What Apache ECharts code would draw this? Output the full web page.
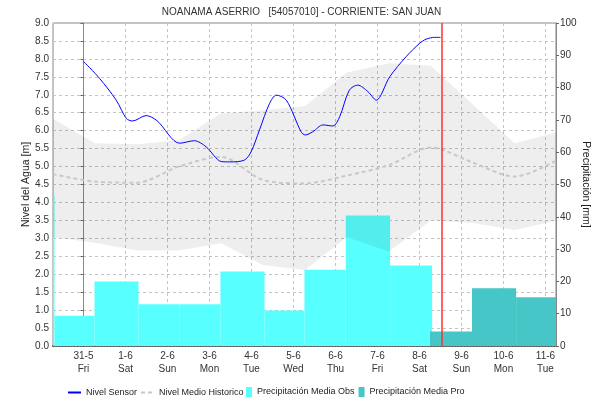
<!DOCTYPE html>
<html>
<head>
<meta charset="utf-8">
<title>NOANAMA ASERRIO</title>
<script src="https://cdn.jsdelivr.net/npm/echarts@6/dist/echarts.min.js"></script>
<style>
  html, body { margin: 0; padding: 0; background: #fff; }
  #main { width: 603px; height: 400px; }
</style>
</head>
<body>
<div id="main"></div>
<script>
// eje x: dias desde 31-5 00:00
const dayDates = ['31-5', '1-6', '2-6', '3-6', '4-6', '5-6', '6-6', '7-6', '8-6', '9-6', '10-6', '11-6'];
const dayNames = ['Fri', 'Sat', 'Sun', 'Mon', 'Tue', 'Wed', 'Thu', 'Fri', 'Sat', 'Sun', 'Mon', 'Tue'];
const xMin = -0.726;
const xMax = 11.25;

// Nivel Sensor [m]
const sensorDay = [0, 0.38, 0.78, 1.02, 1.17, 1.49, 1.75, 2.29, 2.64, 2.92, 3.28, 3.48, 3.83, 3.99, 4.19, 4.43, 4.59, 4.83, 5.18, 5.28, 5.46, 5.70, 5.94, 6.10, 6.33, 6.53, 6.77, 6.97, 7.29, 7.68, 8.0, 8.16, 8.36, 8.50];
const sensorLevel = [7.93, 7.46, 6.85, 6.34, 6.27, 6.42, 6.28, 5.65, 5.72, 5.55, 5.14, 5.13, 5.18, 5.41, 6.02, 6.76, 6.99, 6.85, 5.97, 5.88, 5.97, 6.16, 6.13, 6.39, 7.13, 7.27, 7.09, 6.85, 7.50, 8.06, 8.43, 8.55, 8.60, 8.60];

// historico diario [m]
const histDay = [-0.73, 0.27, 1.27, 2.27, 3.27, 4.27, 5.27, 6.27, 7.27, 8.27, 9.27, 10.27, 11.27];
const histMax = [6.33, 5.65, 5.62, 5.73, 6.48, 6.57, 6.69, 7.62, 7.88, 7.81, 6.73, 5.65, 5.95];
const histMin = [3.03, 2.88, 2.66, 2.66, 2.86, 2.26, 2.12, 3.03, 2.63, 3.50, 3.43, 3.23, 3.49];
const histMean = [4.79, 4.58, 4.55, 5.00, 5.27, 4.63, 4.53, 4.75, 5.04, 5.53, 5.11, 4.72, 5.18];

// precipitacion [mm]
const obsStart = [-0.726, -0.69, 0.262, 1.31, 2.28, 3.26, 4.31, 5.26, 6.245, 7.30];
const obsEnd = [-0.69, 0.262, 1.31, 2.28, 3.26, 4.31, 5.26, 6.245, 7.30, 8.30];
const obsRain = [46.6, 9.4, 20.0, 12.9, 12.9, 23.1, 11.0, 23.6, 40.4, 24.9];
const proStart = [8.25, 9.25, 10.30];
const proEnd = [9.25, 10.30, 11.25];
const proRain = [4.5, 17.9, 15.1];

const nowDay = 8.52;

const font = "'Liberation Sans', Arial, sans-serif";
const dayIdx = dayDates.map((d, i) => i);

function barItem(color) {
  return function (params, api) {
    const p0 = api.coord([api.value(0), api.value(2)]);
    const p1 = api.coord([api.value(1), 0]);
    const shape = echarts.graphic.clipRectByRect({
      x: p0[0], y: p0[1], width: p1[0] - p0[0], height: p1[1] - p0[1]
    }, params.coordSys);
    return shape && { type: 'rect', shape: shape, style: { fill: color, stroke: null, lineWidth: 0 } };
  };
}

function bandItem(params, api) {
  if (params.dataIndex !== 0) return;
  const pts = [];
  histDay.forEach((d, i) => pts.push(api.coord([d, histMax[i]])));
  for (let i = histDay.length - 1; i >= 0; i--) pts.push(api.coord([histDay[i], histMin[i]]));
  return {
    type: 'polygon',
    shape: { points: echarts.graphic.clipPointsByRect(pts, params.coordSys) },
    style: { fill: 'rgba(0,0,0,0.065)', stroke: null }
  };
}

const legendText = { fontFamily: font, fontSize: 9, color: '#222' };

const chart = echarts.init(document.getElementById('main'));
chart.setOption({
  animation: false,
  title: {
    text: 'NOANAMA ASERRIO   [54057010] - CORRIENTE: SAN JUAN',
    left: 'center', top: 2,
    textStyle: { fontFamily: font, fontSize: 10, fontWeight: 'normal', color: '#333' }
  },
  legend: [{
    bottom: -2, left: 62,
    itemWidth: 13, itemHeight: 10, itemGap: 3,
    textStyle: legendText,
    data: [
      { name: 'Nivel Sensor', itemStyle: { opacity: 0 } },
      { name: 'Nivel Medio Historico', itemStyle: { opacity: 0 } }
    ]
  }, {
    bottom: -2, left: 241,
    itemWidth: 6, itemHeight: 10, itemGap: 4,
    textStyle: legendText,
    data: [
      { name: 'Precipitación Media Obs', icon: 'rect' },
      { name: 'Precipitación Media Pro', icon: 'rect' }
    ]
  }],
  grid: { left: 53, right: 47, top: 23, bottom: 54, show: true, borderColor: '#888', borderWidth: 1 },
  xAxis: {
    type: 'value', min: xMin, max: xMax,
    axisLine: { lineStyle: { color: '#555', type: [1, 2], width: 2 } },
    axisTick: { show: false, customValues: dayIdx },
    axisLabel: {
      customValues: dayIdx,
      formatter: v => dayDates[Math.round(v)] + '\n' + dayNames[Math.round(v)],
      fontFamily: font, fontSize: 10, color: '#333', lineHeight: 13, margin: 4
    },
    splitLine: { show: true, lineStyle: { color: '#c4c4c4', type: [3, 3] } }
  },
  yAxis: [{
    type: 'value', min: 0, max: 9, interval: 0.5,
    name: 'Nivel del Agua [m]', nameLocation: 'middle', nameGap: 21, nameMoveOverlap: false,
    nameTextStyle: { fontFamily: font, fontSize: 10.5, color: '#222' },
    axisLine: { show: true, lineStyle: { color: '#888' } },
    axisTick: { show: true, length: 3, lineStyle: { color: '#666' } },
    axisLabel: { formatter: v => v.toFixed(1), fontFamily: font, fontSize: 10, color: '#333', margin: 4 },
    splitLine: { show: true, lineStyle: { color: '#c4c4c4', type: [3, 3] } }
  }, {
    type: 'value', min: 0, max: 100, interval: 10,
    name: 'Precipitación [mm]', nameLocation: 'middle', nameGap: 24, nameRotate: -90, nameMoveOverlap: false,
    nameTextStyle: { fontFamily: font, fontSize: 10.5, color: '#222' },
    axisLine: { show: true, lineStyle: { color: '#888' } },
    axisTick: { show: true, length: 3, lineStyle: { color: '#666' } },
    axisLabel: { fontFamily: font, fontSize: 10, color: '#333', margin: 4 },
    splitLine: { show: false }
  }],
  series: [
    {
      name: 'Precipitación Media Obs', type: 'custom', yAxisIndex: 1,
      itemStyle: { color: '#58ffff' },
      renderItem: barItem('#58ffff'),
      encode: { x: [0, 1], y: 2 },
      data: obsStart.map((s, i) => [s, obsEnd[i], obsRain[i]])
    },
    {
      name: 'Precipitación Media Pro', type: 'custom', yAxisIndex: 1,
      itemStyle: { color: '#46c6c6' },
      renderItem: barItem('#46c6c6'),
      encode: { x: [0, 1], y: 2 },
      data: proStart.map((s, i) => [s, proEnd[i], proRain[i]])
    },
    {
      name: 'rango', type: 'custom', silent: true,
      renderItem: bandItem,
      encode: { x: 0, y: 1 },
      data: histDay.map((d, i) => [d, histMax[i]])
    },
    {
      name: 'Nivel Medio Historico', type: 'line', symbol: 'none', smooth: 0.3,
      lineStyle: { color: '#c8c8c8', width: 2, type: [4, 3] },
      itemStyle: { color: '#c8c8c8' },
      data: histDay.map((d, i) => [d, histMean[i]])
    },
    {
      name: 'Nivel Sensor', type: 'line', symbol: 'none', smooth: 0.3,
      lineStyle: { color: '#0000ff', width: 1 },
      itemStyle: { color: '#0000ff' },
      data: sensorDay.map((d, i) => [d, sensorLevel[i]]),
      markLine: {
        silent: true, symbol: 'none', label: { show: false },
        lineStyle: { color: '#ff3030', width: 1.5, type: 'solid' },
        data: [{ xAxis: nowDay }]
      }
    }
  ]
});
</script>
</body>
</html>
